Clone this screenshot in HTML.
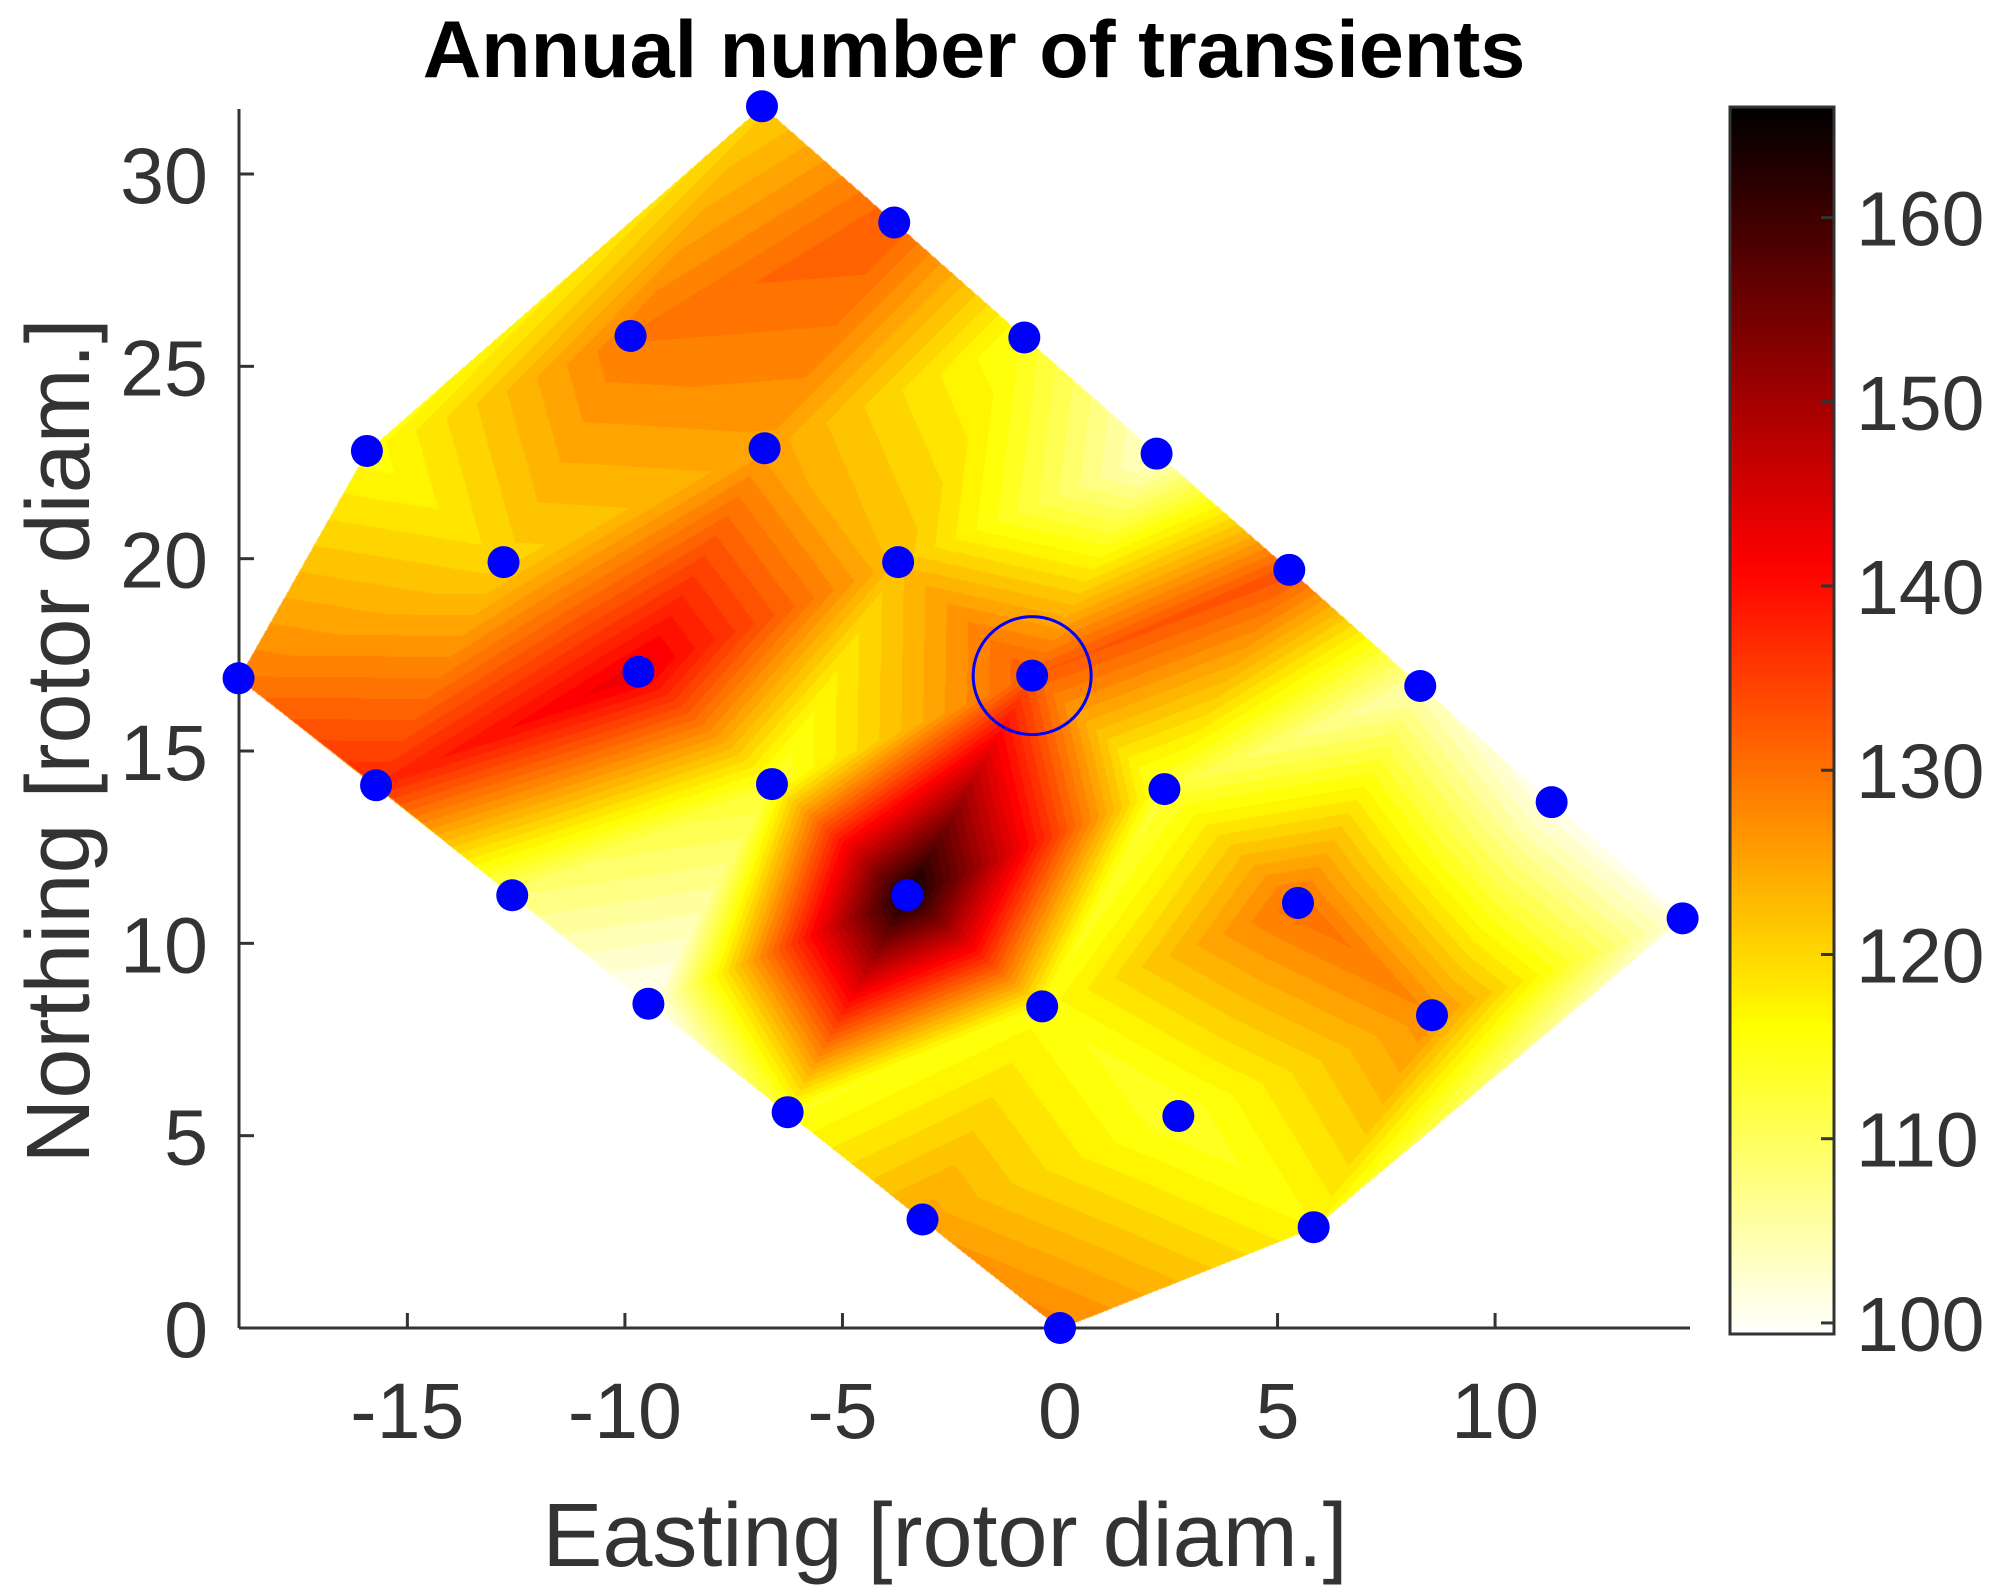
<!DOCTYPE html>
<html><head><meta charset="utf-8"><style>
html,body{margin:0;padding:0;background:#fff;}
#wrap{position:relative;width:1994px;height:1594px;overflow:hidden;}
canvas,svg{position:absolute;left:0;top:0;}
text{font-family:"Liberation Sans",Arial,sans-serif;fill:#333;}
</style></head><body>
<div id="wrap">
<canvas id="heat" width="1994" height="1594"></canvas>
<svg id="svg" width="1994" height="1594">
<defs>
<linearGradient id="hotgrad" x1="0" y1="1" x2="0" y2="0"></linearGradient>
</defs>
<text x="974" y="77" text-anchor="middle" font-weight="bold" font-size="81" style="fill:#000">Annual number of transients</text>
<g id="axes"></g>
<g id="marks"></g>
<g id="cbar"></g>
<text x="945" y="1566" text-anchor="middle" font-size="90">Easting [rotor diam.]</text>
<text transform="translate(89,741) rotate(-90)" text-anchor="middle" font-size="90">Northing [rotor diam.]</text>
</svg>
</div>
<script>
const eastings = [-6.85,-3.81,-9.87,-0.82,-15.93,-6.79,2.22,-12.79,-3.72,5.27,-18.88,-9.69,-0.64,8.28,-15.72,-6.62,2.40,11.30,-12.59,-3.51,5.47,14.31,-9.46,-0.41,8.55,-6.26,2.72,-3.16,5.83,0];
const northings = [31.76,28.74,25.79,25.75,22.80,22.87,22.73,19.91,19.91,19.71,16.89,17.06,16.96,16.69,14.11,14.14,14.01,13.67,11.25,11.25,11.05,10.65,8.43,8.36,8.13,5.61,5.51,2.82,2.62,0];
const transients = [121,133,130,115,116,126,103,121,123,134,130,144,133,105,138,114,113,101,109,166,131,102,100,116,128,115,114,126,117,129];
const highlightIndex = 12;
const xTicks = [-15,-10,-5,0,5,10];
const yTicks = [0,5,10,15,20,25,30];
const cTicks = [100,110,120,130,140,150,160];

const X0=239,X1=1690,Y0=1328,Y1=109;
const xmin=-18.87,xmax=14.48,ymin=0,ymax=31.69;
const sx=d=>X0+(d-xmin)/(xmax-xmin)*(X1-X0);
const sy=d=>Y0-(d-ymin)/(ymax-ymin)*(Y0-Y1);
const cmin=99.4,cmax=166;
const CB={x0:1730,x1:1834,y0:1334,y1:107};
const cy=v=>CB.y0-(v-cmin)/(cmax-cmin)*(CB.y0-CB.y1);
function hot(v){let t=1-(v-cmin)/(cmax-cmin);t=Math.max(0,Math.min(1,t));
 const r=Math.min(1,t/0.375),g=Math.max(0,Math.min(1,(t-0.375)/0.375)),b=Math.max(0,Math.min(1,(t-0.75)/0.25));
 return [Math.round(r*255),Math.round(g*255),Math.round(b*255)];}
const NS='http://www.w3.org/2000/svg';
function mk(tag,attrs,parent){const e=document.createElementNS(NS,tag);for(const k in attrs)e.setAttribute(k,attrs[k]);parent.appendChild(e);return e;}

const P=eastings.map((e,i)=>[sx(e),sy(northings[i]),transients[i]]);
function circ(a,b,c){const ax=a[0],ay=a[1],bx=b[0],by=b[1],cx=c[0],cyy=c[1];
 const d=2*(ax*(by-cyy)+bx*(cyy-ay)+cx*(ay-by));
 const ux=((ax*ax+ay*ay)*(by-cyy)+(bx*bx+by*by)*(cyy-ay)+(cx*cx+cyy*cyy)*(ay-by))/d;
 const uy=((ax*ax+ay*ay)*(cx-bx)+(bx*bx+by*by)*(ax-cx)+(cx*cx+cyy*cyy)*(bx-ax))/d;
 return [ux,uy,(ax-ux)**2+(ay-uy)**2];}
const pts=P.map(p=>p.slice());
pts.push([-1e5,-1e5,0],[1e5,-1e5,0],[0,1e5,0]);
const n=P.length;
let tris=[[n,n+1,n+2]];
for(let i=0;i<n;i++){
 const p=pts[i];const bad=[],keep=[];
 for(const t of tris){const c=circ(pts[t[0]],pts[t[1]],pts[t[2]]);
  if((p[0]-c[0])**2+(p[1]-c[1])**2<c[2])bad.push(t);else keep.push(t);}
 const edges=[];
 for(const t of bad){for(const e of [[t[0],t[1]],[t[1],t[2]],[t[2],t[0]]]){
  const idx=edges.findIndex(f=>(f[0]===e[1]&&f[1]===e[0])||(f[0]===e[0]&&f[1]===e[1]));
  if(idx>=0)edges.splice(idx,1);else edges.push(e);}}
 for(const e of edges)keep.push([e[0],e[1],i]);
 tris=keep;
}
tris=tris.filter(t=>t[0]<n&&t[1]<n&&t[2]<n);

const ctx=document.getElementById('heat').getContext('2d');
const img=ctx.createImageData(1994,1594);const D=img.data;
const step=1.6;
for(const t of tris){
 const a=pts[t[0]],b=pts[t[1]],c=pts[t[2]];
 const minx=Math.floor(Math.min(a[0],b[0],c[0])),maxx=Math.ceil(Math.max(a[0],b[0],c[0]));
 const miny=Math.floor(Math.min(a[1],b[1],c[1])),maxy=Math.ceil(Math.max(a[1],b[1],c[1]));
 const det=(b[1]-c[1])*(a[0]-c[0])+(c[0]-b[0])*(a[1]-c[1]);
 for(let y=miny;y<=maxy;y++)for(let x=minx;x<=maxx;x++){
  const l1=((b[1]-c[1])*(x-c[0])+(c[0]-b[0])*(y-c[1]))/det;
  const l2=((c[1]-a[1])*(x-c[0])+(a[0]-c[0])*(y-c[1]))/det;
  const l3=1-l1-l2;
  if(l1<-0.002||l2<-0.002||l3<-0.002)continue;
  if(x<0||y<0||x>=1994||y>=1594)continue;
  let v=l1*a[2]+l2*b[2]+l3*c[2];
  v=cmin+Math.floor((v-cmin)/step)*step;
  const col=hot(v);const k=(y*1994+x)*4;
  D[k]=col[0];D[k+1]=col[1];D[k+2]=col[2];D[k+3]=255;}
}
ctx.putImageData(img,0,0);

const ax=document.getElementById('axes');
const axc='#333';
mk('line',{x1:X0,y1:Y0,x2:X1,y2:Y0,stroke:axc,'stroke-width':3,},ax);
mk('line',{x1:X0,y1:Y0,x2:X0,y2:Y1,stroke:axc,'stroke-width':3,},ax);
xTicks.forEach(v=>{const x=sx(v);
 const l=mk('line',{x1:x,y1:Y0,x2:x,y2:Y0-15,stroke:axc,'stroke-width':3},ax);
 
 
 const t=mk('text',{x:x,y:1438,'text-anchor':'middle','font-size':79},ax);t.textContent=v;
 
 });
yTicks.forEach(v=>{const y=sy(v);
 const l=mk('line',{x1:X0,y1:y,x2:X0+15,y2:y,stroke:axc,'stroke-width':3},ax);
 
 
 const t=mk('text',{x:208,y:y+29,'text-anchor':'end','font-size':79},ax);t.textContent=v;
 
 });

const mg=document.getElementById('marks');
P.forEach((p,i)=>{const c=mk('circle',{cx:p[0],cy:p[1],r:16,fill:'#0000ff'},mg);
 
 });
const hc=mk('circle',{cx:P[highlightIndex][0],cy:P[highlightIndex][1],r:59,fill:'none',stroke:'#0000ff','stroke-width':3},mg);



const gr=document.getElementById('hotgrad');
for(let i=0;i<=60;i++){const v=cmin+(cmax-cmin)*i/60;const c=hot(v);
 mk('stop',{offset:(i/60),'stop-color':`rgb(${c[0]},${c[1]},${c[2]})`},gr);}
const cb=document.getElementById('cbar');
mk('rect',{x:CB.x0,y:CB.y1,width:CB.x1-CB.x0,height:CB.y0-CB.y1,fill:'url(#hotgrad)',stroke:axc,'stroke-width':3,},cb);
cTicks.forEach(v=>{const y=cy(v);
 const l=mk('line',{x1:CB.x1,y1:y,x2:CB.x1-13,y2:y,stroke:axc,'stroke-width':3},cb);
 
 
 const t=mk('text',{x:1856,y:y+28,'font-size':77},cb);t.textContent=v;
 
 });
</script>
</body></html>
